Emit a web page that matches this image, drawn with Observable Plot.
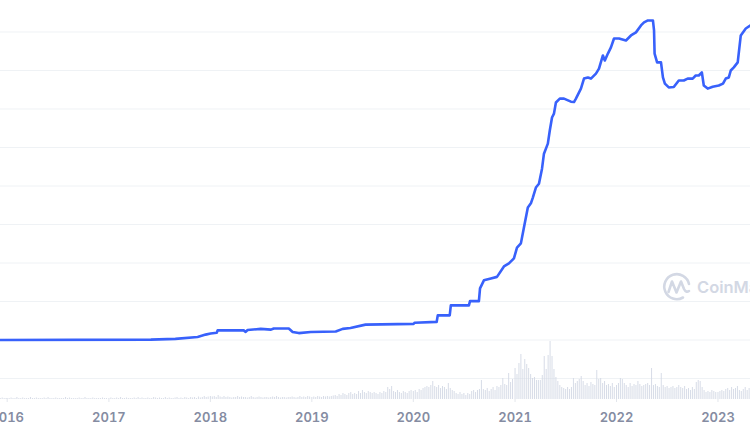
<!DOCTYPE html>
<html><head><meta charset="utf-8">
<script src="https://cdn.jsdelivr.net/npm/d3@7"></script>
<script src="https://cdn.jsdelivr.net/npm/@observablehq/plot@0.6"></script>
<style>
html,body{margin:0;padding:0;background:#fff;}
#chart{position:relative;width:750px;height:430px;overflow:hidden;font-family:Inter,sans-serif;}
#chart > svg{position:absolute;left:0;top:0;background:transparent;}
</style></head><body><div id="chart"></div>
<script>
// ---- price line (date, value in grid units) ----
const lineDates = ["2015-12-08","2017-06-01","2017-08-28","2017-11-16","2017-12-15","2018-01-02","2018-01-24","2018-01-27","2018-05-01","2018-05-08","2018-05-15","2018-07-01","2018-08-07","2018-08-17","2018-10-10","2018-10-24","2018-11-15","2018-12-28","2019-03-28","2019-04-22","2019-05-20","2019-07-13","2020-01-02","2020-01-06","2020-03-25","2020-03-29","2020-05-11","2020-05-15","2020-07-19","2020-07-23","2020-08-24","2020-08-28","2020-09-11","2020-10-06","2020-10-28","2020-11-22","2020-12-10","2020-12-28","2021-01-08","2021-01-22","2021-02-02","2021-02-16","2021-02-27","2021-03-06","2021-03-17","2021-03-28","2021-04-08","2021-04-15","2021-04-29","2021-05-06","2021-05-14","2021-05-21","2021-05-28","2021-06-11","2021-06-26","2021-07-21","2021-08-01","2021-08-08","2021-08-26","2021-09-06","2021-09-20","2021-10-01","2021-10-19","2021-10-30","2021-11-13","2021-11-20","2021-12-01","2021-12-12","2021-12-23","2022-01-10","2022-02-04","2022-02-22","2022-03-12","2022-03-30","2022-04-10","2022-04-24","2022-05-12","2022-05-16","2022-05-18","2022-05-27","2022-06-10","2022-06-17","2022-06-24","2022-07-08","2022-07-26","2022-08-13","2022-08-31","2022-09-14","2022-10-02","2022-10-13","2022-10-24","2022-11-04","2022-11-11","2022-11-25","2022-12-13","2023-01-04","2023-01-19","2023-01-29","2023-02-09","2023-02-16","2023-02-27","2023-03-13","2023-03-24","2023-04-11","2023-04-28"];
const lineValues = [1.00,1.01,1.03,1.08,1.14,1.17,1.19,1.25,1.25,1.21,1.26,1.29,1.27,1.30,1.30,1.21,1.18,1.21,1.22,1.29,1.31,1.40,1.42,1.45,1.47,1.64,1.64,1.90,1.90,2.01,2.01,2.34,2.55,2.60,2.64,2.91,2.99,3.12,3.40,3.51,3.92,4.44,4.55,4.70,4.96,5.06,5.45,5.84,6.10,6.44,6.78,6.88,7.17,7.27,7.27,7.19,7.18,7.27,7.53,7.79,7.82,7.79,7.92,8.05,8.39,8.26,8.44,8.60,8.83,8.83,8.78,8.91,8.99,9.17,9.25,9.30,9.30,9.04,8.44,8.21,8.21,7.82,7.66,7.56,7.57,7.74,7.74,7.79,7.79,7.87,7.87,7.95,7.61,7.53,7.58,7.61,7.66,7.79,7.82,8.00,8.08,8.21,8.91,9.09,9.17];

// ---- weekly volume per year (relative units) ----
const vol2015 = [1,1.5,1,1]; // weeks from 2015-12-07
const vol2016 = [1,1,1.5,1,1,2,1,1,1.5,1,1,1,2,1,1,1.5,1,1,1,1.5,1,2,1,1,1,1.5,1,1,1,1,2,1,1.5,1,1,1,1,1.5,1,1,2,1,1,1,1.5,1,1,1,1,1.5,1,1];
const vol2017 = [1,1.5,1,1,1.5,1,2,1,1,1.5,1,1,1,1.5,1,2,1,1.5,1,1,1.5,1,1,2,1.5,1,1.5,1,1,2,1,1.5,1,1,1.5,2,1,1.5,1,2,1.5,1,2,1.5,2,1,2.5,1.5,2,3,2,2.5];
const vol2018 = [3,2.5,3,2,4,2.5,2,3,2,2.5,2,1.5,2,2,3,2,2.5,2,2,1.5,2,3,2,1.5,2,2.5,2,1.5,2,2,1.5,2,2.5,2,3,2,1.5,2,2,1.5,2,2,2.5,2,1.5,2,3,2,2.5,2,3,2.5];
const vol2019 = [2,2.5,2,3,2.5,2,3,2.5,3,2.5,3,3.5,4,3,5,4,6,5,4,6,7,5,6,5,8,6,9,7,6,8,7,6,7,6,5,7,6,8,7,12,10,13,8,7,9,7,6,8,7,6,8,9];
const vol2020 = [8,9,7,10,9,11,12,13,12,14,18,13,12,14,11,13,12,10,16,11,9,8,6,5,7,5,6,4,6,5,8,9,7,9,10,19,10,9,11,8,10,12,9,13,12,14,21,15,14,26,17,20];
const vol2021 = [31,25,36,45,30,40,35,31,25,21,22,19,19,19,24,43,30,44,58,43,30,22,18,14,12,11,10,12,10,12,21,16,18,20,23,18,14,16,13,17,15,14,29,20,21,16,18,14,15,13,16,12];
const vol2022 = [14,16,21,20,16,14,12,16,13,15,14,18,15,13,14,15,16,14,31,14,15,13,12,26,14,12,13,11,12,13,11,12,14,12,11,13,10,11,9,12,10,17,19,18,12,9,7,8,7,9,8,7];
const vol2023 = [7,8,9,8,10,11,9,12,10,11,13,9,8,10,12,9,11];

// ---- axis ----
const yearTicks = [2016,2017,2018,2019,2020,2021,2022,2023];
const gridValues = [0,1,2,3,4,5,6,7,8,9];
const xDomain = [new Date("2015-12-08"), new Date("2023-04-28")];

const lineData = lineDates.map((d,i)=>({date:new Date(d), value:lineValues[i]}));
const volData = [];
function addVol(arr, start){ arr.forEach((v,w)=>volData.push({date:d3.utcDay.offset(start, w*7), vol:v})); }
addVol(vol2015, new Date(Date.UTC(2015,11,7)));
[[vol2016,2016],[vol2017,2017],[vol2018,2018],[vol2019,2019],[vol2020,2020],[vol2021,2021],[vol2022,2022],[vol2023,2023]]
  .forEach(([a,y])=>addVol(a, new Date(Date.UTC(y,0,1))));

const W = 750, H = 430, MB = 31;
const base = {width:W, height:H, marginLeft:0, marginRight:0, marginBottom:MB,
  style:{background:"transparent", fontFamily:"Inter, sans-serif", overflow:"hidden"}};
const xOpt = {type:"utc", domain:xDomain};
const yMain = {domain:[-0.545, 9.818], axis:null};
const tickDates = yearTicks.map(y=>new Date(Date.UTC(y,0,1)));

const chart = document.getElementById("chart");

// layer 1: grid + x axis
chart.appendChild(Plot.plot({...base, marginTop:0, x:{...xOpt, axis:null}, y:yMain,
  marks:[
    Plot.gridY(gridValues, {stroke:"#eff2f5", strokeOpacity:1, strokeWidth:1}),
    Plot.axisX(tickDates, {tickFormat:d3.utcFormat("%Y"), tickSize:3, tickPadding:10,
      stroke:"#e3e6ec", fill:"#858ca2", fontSize:13, fontWeight:600})
  ]}));

// layer 2: volume bars
chart.appendChild(Plot.plot({...base, marginTop:H-MB-60, x:{...xOpt, axis:null}, y:{domain:[0,60], axis:null},
  marks:[
    Plot.ruleX(volData, {x:"date", y1:0, y2:"vol", stroke:"#d3d8e4", strokeWidth:1, strokeOpacity:0.9})
  ]}));

// layer 3: price line
chart.appendChild(Plot.plot({...base, marginTop:0, x:{...xOpt, axis:null}, y:yMain,
  marks:[
    Plot.line(lineData, {x:"date", y:"value", stroke:"#3861fb", strokeWidth:2.6, strokeLinejoin:"round", strokeLinecap:"round"})
  ]}));

// watermark
const ns = "http://www.w3.org/2000/svg";
const wm = document.createElementNS(ns, "svg");
wm.setAttribute("width", W); wm.setAttribute("height", H);
wm.innerHTML = `<g fill="none" stroke="#d3d8e4" stroke-width="2.6" stroke-linecap="round" stroke-linejoin="round">
  <path d="M 689 284 A 12.5 12.5 0 1 0 683 297.5"/>
  <path d="M 668.5 292 L 672 281.5 L 676.5 292.5 L 681 281.5 L 684 289 Q 686 293 689 291"/>
</g>
<text x="697" y="293" fill="#d3d8e4" font-family="Inter, sans-serif" font-size="16.5" font-weight="600">CoinMarketCap</text>`;
chart.appendChild(wm);
</script></body></html>
